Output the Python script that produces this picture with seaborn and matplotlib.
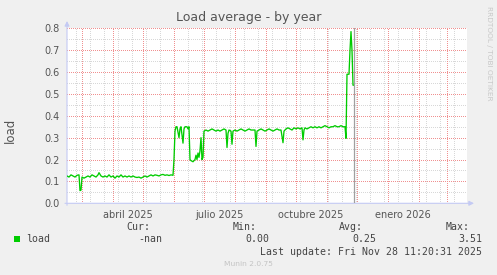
import numpy as np
import pandas as pd
import matplotlib
matplotlib.use("Agg")
import matplotlib.pyplot as plt
import seaborn as sns
from matplotlib.patches import Rectangle

# ---------------- data ----------------
start_date = "2025-02-14"
day_offsets = [0, 2, 4, 6, 8, 10, 12, 13, 14, 15, 17, 19, 21, 23, 25, 27, 29, 31, 32, 34,
               36, 38, 40, 42, 44, 46, 48, 50, 52, 54, 56, 58, 60, 62, 64, 66, 68, 70, 72, 74,
               76, 78, 80, 82, 84, 86, 88, 90, 92, 94, 96, 98, 100, 102, 104, 106, 107, 108, 109, 110,
               112, 113, 114, 116, 117, 118, 120, 121, 122, 123, 124, 126, 128, 129, 130, 131, 132, 133, 134, 135,
               136, 137, 139, 141, 143, 145, 147, 149, 151, 153, 155, 157, 159, 160, 161, 162, 164, 165, 166, 168,
               170, 172, 174, 176, 178, 180, 182, 184, 186, 188, 189, 190, 192, 194, 196, 198, 200, 202, 204, 206,
               208, 210, 212, 214, 216, 217, 219, 221, 223, 225, 227, 229, 231, 233, 235, 236, 237, 238, 240, 242,
               244, 246, 248, 250, 252, 254, 256, 258, 260, 262, 264, 266, 268, 270, 272, 274, 276, 278, 279, 280,
               281, 282, 283, 284, 285, 286, 287]
load = [0.125, 0.12, 0.13, 0.125, 0.12, 0.128, 0.13, 0.058, 0.06, 0.12, 0.115, 0.12, 0.125, 0.12, 0.13, 0.125, 0.12, 0.13, 0.14, 0.125,
        0.12, 0.125, 0.12, 0.13, 0.12, 0.125, 0.115, 0.125, 0.12, 0.13, 0.12, 0.125, 0.12, 0.125, 0.12, 0.125, 0.12, 0.118, 0.12, 0.115,
        0.12, 0.125, 0.12, 0.125, 0.13, 0.125, 0.13, 0.128, 0.125, 0.13, 0.132, 0.128, 0.13, 0.127, 0.13, 0.128, 0.20, 0.33, 0.35, 0.35,
        0.30, 0.34, 0.35, 0.275, 0.34, 0.35, 0.35, 0.34, 0.35, 0.20, 0.195, 0.19, 0.20, 0.22, 0.20, 0.23, 0.21, 0.24, 0.30, 0.20,
        0.21, 0.33, 0.335, 0.33, 0.335, 0.34, 0.335, 0.33, 0.335, 0.33, 0.335, 0.34, 0.335, 0.255, 0.32, 0.335, 0.33, 0.27, 0.33, 0.335,
        0.33, 0.335, 0.34, 0.335, 0.33, 0.335, 0.34, 0.335, 0.335, 0.335, 0.26, 0.33, 0.335, 0.34, 0.335, 0.33, 0.335, 0.34, 0.335, 0.33,
        0.335, 0.34, 0.335, 0.335, 0.277, 0.33, 0.34, 0.345, 0.34, 0.335, 0.345, 0.34, 0.345, 0.34, 0.345, 0.29, 0.335, 0.345, 0.34, 0.345,
        0.35, 0.345, 0.35, 0.345, 0.35, 0.345, 0.35, 0.355, 0.35, 0.345, 0.35, 0.35, 0.355, 0.35, 0.35, 0.355, 0.35, 0.35, 0.297, 0.59,
        0.59, 0.59, 0.70, 0.785, 0.70, 0.54, 0.54]

y_ticks = [0.0, 0.1, 0.2, 0.3, 0.4, 0.5, 0.6, 0.7, 0.8]
x_label_dates = ["2025-04-16", "2025-07-16", "2025-10-16", "2026-01-16"]
x_labels = ["abril 2025", "julio 2025", "octubre 2025", "enero 2026"]
legend_name = "load"
stats_head = ["Cur:", "Min:", "Avg:", "Max:"]
stats_vals = ["-nan", "0.00", "0.25", "3.51"]
title = "Load average - by year"
last_update = "Last update: Fri Nov 28 11:20:31 2025"
now_date = "2025-11-28"

# ---------------- figure ----------------
sns.set_style("white")
plt.rcParams["font.family"] = ["DejaVu Sans"]

W, H = 497, 275
fig = plt.figure(figsize=(W / 100, H / 100), dpi=100, facecolor="#F0F0F0")

def fx(x):
    return x / W

def fy(y):
    return 1 - y / H

L, R, T, B = 67, 467, 28.3, 203.3
ax = fig.add_axes([fx(L), fy(B), (R - L) / W, (B - T) / H])
ax.set_facecolor("white")

x0 = pd.Timestamp(start_date)
x1 = x0 + pd.Timedelta(days=400)
ax.set_xlim(x0, x1)
ax.set_ylim(0, 0.8)

# grid (dotted, 1px on / 2px off)
minor_col = "#D8D8D8"
major_col = "#F09090"
dot = (0, (1, 2))
gkw = dict(lw=0.72, ls=dot, antialiased=False)
for v in np.arange(0.05, 0.8, 0.1):
    ax.axhline(v, color=minor_col, zorder=1, **gkw)
for d in pd.date_range("2025-02-09", x1, freq="14D"):
    if d > x0:
        ax.axvline(d, color=minor_col, zorder=1, **gkw)
for v in y_ticks[1:]:
    ax.axhline(v, color=major_col, zorder=2, **gkw)
for d in pd.date_range("2025-03-01", x1, freq="MS"):
    ax.axvline(d, color=major_col, zorder=2, **gkw)

df = pd.DataFrame({"date": x0 + pd.to_timedelta(day_offsets, unit="D"), "load": load})
sns.lineplot(data=df, x="date", y="load", color="#00CC00", lw=0.95, ax=ax, zorder=4)

ax.axvline(pd.Timestamp(now_date), color="#A0A0A0", lw=0.9, zorder=5)

for s in ax.spines.values():
    s.set_visible(False)

txt_col = "#555555"
ax.set_yticks(y_ticks)
ax.set_yticklabels([f"{v:.1f}" for v in y_ticks])
ax.set_xticks(pd.to_datetime(x_label_dates))
ax.set_xticklabels(x_labels)
ax.tick_params(axis="y", length=2.5, width=0.7, color=major_col, pad=3, labelsize=7, labelcolor=txt_col)
ax.tick_params(axis="x", length=0, pad=5, labelsize=7, labelcolor=txt_col)
ax.set_xlabel("")
ax.set_ylabel("")

# axis lines with arrows
axis_col = "#C4CAF4"
ax.annotate("", xy=(fx(474), fy(B)), xytext=(fx(L - 2), fy(B)), xycoords="figure fraction",
            arrowprops=dict(arrowstyle="-|>", color=axis_col, lw=0.8, mutation_scale=7, shrinkA=0, shrinkB=0),
            annotation_clip=False)
ax.annotate("", xy=(fx(L), fy(21)), xytext=(fx(L), fy(B + 2)), xycoords="figure fraction",
            arrowprops=dict(arrowstyle="-|>", color=axis_col, lw=0.8, mutation_scale=7, shrinkA=0, shrinkB=0),
            annotation_clip=False)

# texts
fig.text(0.5, fy(18), title, ha="center", va="center", fontsize=9, color=txt_col)
fig.text(fx(10), fy(130), "load", rotation=90, ha="center", va="center", fontsize=8.5, color=txt_col)
fig.text(fx(489), fy(53), "RRDTOOL / TOBI OETIKER", rotation=270, ha="center", va="center",
         fontsize=5.3, color="#C8C8C8")

mono = "DejaVu Sans Mono"
leg_col = "#444444"
fig.patches.append(Rectangle((fx(14), fy(242)), 6 / W, 6 / H, transform=fig.transFigure,
                             facecolor="#00CC00", edgecolor="none"))
fig.text(fx(26.5), fy(239.3), legend_name, ha="left", va="center", family=mono, fontsize=7.1, color=leg_col)
head_x = [150, 256.7, 363.3, 470]
val_x = [162.3, 269, 376, 482.3]
for hx, h in zip(head_x, stats_head):
    fig.text(fx(hx), fy(227.3), h, ha="right", va="center", family=mono, fontsize=7.1, color=leg_col)
for vx, v in zip(val_x, stats_vals):
    fig.text(fx(vx), fy(239.3), v, ha="right", va="center", family=mono, fontsize=7.1, color=leg_col)
fig.text(fx(482.3), fy(251.7), last_update, ha="right", va="center", family=mono, fontsize=7.1, color=leg_col)
fig.text(fx(248), fy(264), "Munin 2.0.75", ha="center", va="center", fontsize=5.4, color="#C4C4C4")

fig.savefig("out.png", dpi=100, facecolor=fig.get_facecolor())
